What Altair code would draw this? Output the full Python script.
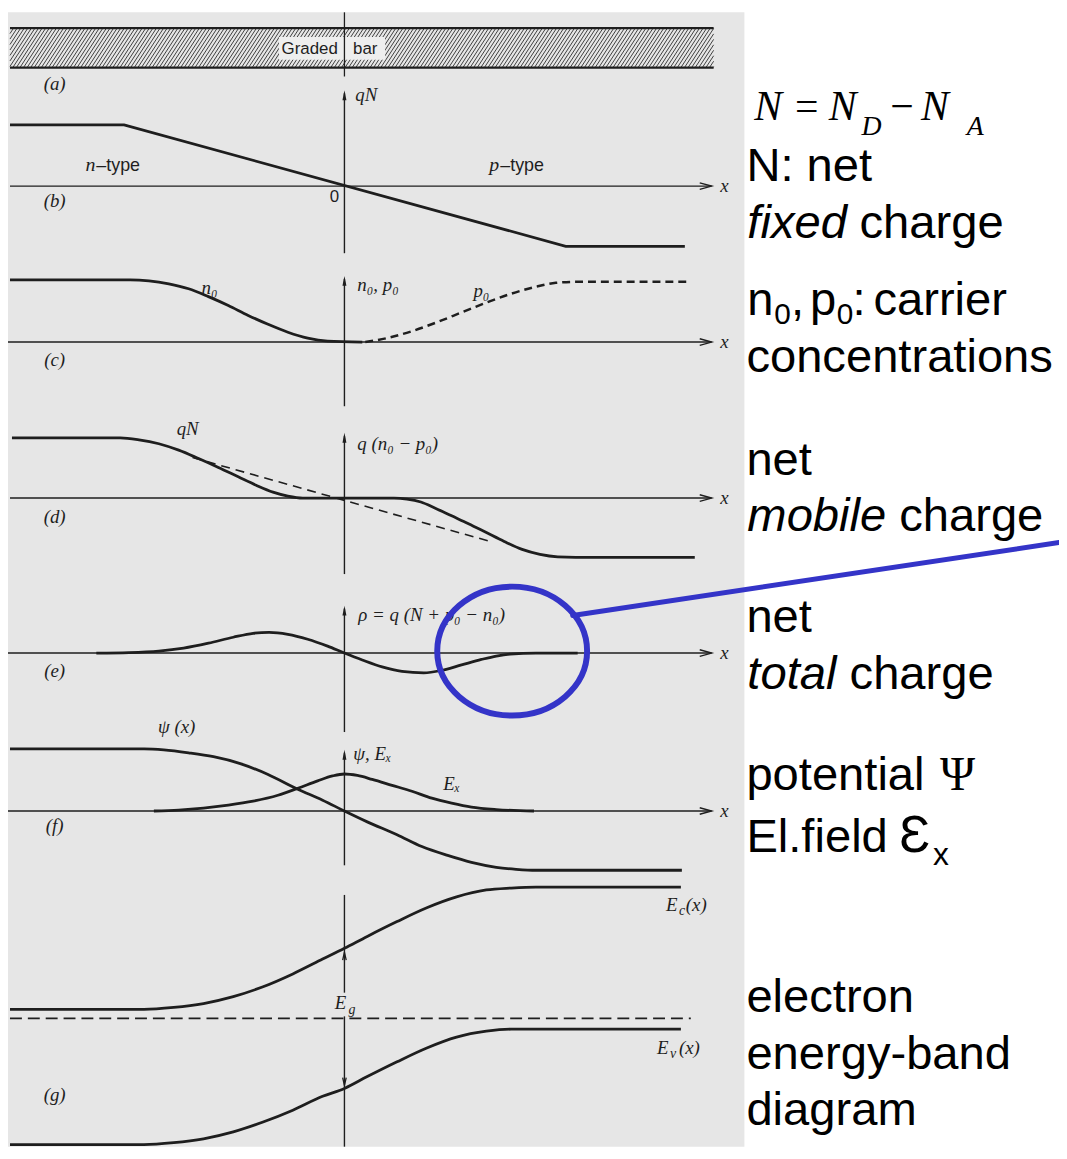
import altair as alt
import pandas as pd

W, H = 1067, 1159          # figure coordinate frame (reference pixels)
JX = 347                   # x position of the junction / vertical axes

# ---------------- curve data (x position, value above the panel baseline) -------------
b_x = [10, 125, 570, 690]
b_qN = [62, 62, -61, -61]

c_n_x = [10, 131, 150, 170, 190, 210, 230, 250, 270, 290, 310, 330, 365]
c_n0 = [63, 63, 62, 59, 54, 46, 37, 27, 18, 10, 4, 1, 0]
c_p_x = [368, 390, 415, 440, 465, 490, 515, 540, 560, 580, 696]
c_p0 = [0, 4, 11, 20, 30, 40, 49, 56, 60, 61, 61]

d_x = [12, 121, 140, 160, 180, 200, 220, 240, 258, 275, 290, 305, 397, 410, 424, 438,
       455, 472, 490, 508, 526, 544, 562, 580, 700]
d_mob = [61, 61, 59, 55, 48.5, 40, 31, 21.5, 13, 6, 2, 0, 0, -1, -4, -10,
         -18, -26, -35, -44, -52, -57, -59.5, -60, -60]
d_fx = [194, 494]
d_fix = [41, -44]

e_x = [97, 130, 160, 185, 210, 235, 255, 271, 290, 310, 330, 347, 365, 385, 405, 427,
       445, 465, 485, 500, 514, 540, 582]
e_rho = [0, 0.5, 2, 5, 10, 16, 20, 21, 19, 14, 7, 0, -7, -14, -18.5, -20,
         -17.5, -12, -6.5, -3, -1, 0, 0]

f_psi_x = [10, 145, 165, 190, 215, 242, 270, 300, 325, 347, 370, 400, 425, 451, 475,
           500, 520, 540, 687]
f_psi = [63, 63, 62, 59, 55, 48, 37, 22, 11, 0, -11, -24, -36, -45, -52, -57, -59, -60, -60]
f_ex_x = [155, 180, 205, 230, 255, 280, 300, 320, 335, 347, 360, 375, 395, 415, 435,
          455, 475, 500, 538]
f_ex = [0, 1, 3, 6, 10, 16, 23, 30.5, 35.5, 37.5, 36, 32, 26, 20, 13, 8, 4, 1.5, 0]

g_x = [10, 145, 175, 205, 235, 265, 295, 325, 347, 370, 400, 430, 460, 490, 515, 540, 686]
g_ec = [9, 9, 11, 15, 22, 32, 45, 60, 71, 83, 98, 112, 123, 130, 132, 133, 133]
g_ev = [-128, -128, -126, -122, -115, -105, -93, -79, -71, -59, -44, -30, -19, -13,
        -11, -11, -11]
g_fermi_x = [10, 696]
g_fermi = [0, 0]

# ---------------- layout ----------------
BASE = {"b": 182, "c": 340, "d": 498, "e": 655, "f": 815, "g": 1025}
AX_TOP = {"b": 85, "c": 273, "d": 432, "e": 607, "f": 753}
AX_BOT = {"b": 250, "c": 405, "d": 575, "e": 735, "f": 870}
AX_X0 = {"b": 10, "c": 8, "d": 10, "e": 8, "f": 8}
AX_X1 = 717

INK = "#1e1e1e"
BG = "#e6e6e6"
BLUE = "#3434c8"
LW = 2.8

xs = alt.Scale(domain=[8, W], nice=False, zero=False)
ys = alt.Scale(domain=[6, 1155], nice=False, zero=False, reverse=True)
X = alt.X("x:Q", scale=xs, axis=None)
Y = alt.Y("y:Q", scale=ys, axis=None)


def curve(xv, vals, base, cid):
    return pd.DataFrame({"x": xv, "y": [base - v for v in vals], "id": cid,
                         "o": list(range(len(xv)))})


def lines(dfs, interp, width, dash=None):
    df = pd.concat(dfs, ignore_index=True)
    kw = dict(interpolate=interp, strokeWidth=width, color=INK, strokeCap="butt")
    if dash:
        kw["strokeDash"] = dash
    return alt.Chart(df).mark_line(**kw).encode(x=X, y=Y, detail="id:N", order="o:Q")


def segs(rows, width, color=INK, dash=None, cap="butt"):
    df = pd.DataFrame(rows, columns=["x", "y", "x2", "y2"])
    kw = dict(strokeWidth=width, color=color, strokeCap=cap)
    if dash:
        kw["strokeDash"] = dash
    return alt.Chart(df).mark_rule(**kw).encode(
        x=X, y=Y, x2=alt.X2("x2:Q"), y2=alt.Y2("y2:Q"))


def rects(rows, color):
    df = pd.DataFrame(rows, columns=["x", "y", "x2", "y2"])
    return alt.Chart(df).mark_rect(color=color, stroke=None).encode(
        x=X, y=Y, x2=alt.X2("x2:Q"), y2=alt.Y2("y2:Q"))


def txt(rows, font, size, style="normal", align="left", baseline="alphabetic", color="#111111"):
    df = pd.DataFrame(rows, columns=["t", "x", "y"])
    return alt.Chart(df).mark_text(font=font, fontSize=size, fontStyle=style, align=align,
                                   baseline=baseline, color=color).encode(x=X, y=Y, text="t:N")


def marks(rows, shape, size, filled=True, width=1.3, color=INK):
    df = pd.DataFrame(rows, columns=["x", "y"])
    kw = dict(shape=shape, size=size, filled=filled, strokeWidth=width, color=color, opacity=1)
    if filled:
        kw["stroke"] = None
    return alt.Chart(df).mark_point(**kw).encode(x=X, y=Y)


layers = []

# background of the scanned page
layers.append(rects([[8, 6, 750, 1155]], BG))

# (a) graded bar with hatching
BAR_L, BAR_R, BAR_T, BAR_B = 10, 719, 22, 62
HSTEP, HDX = 3.6, 26
hatch = []
s = BAR_L - HDX
while s < BAR_R:
    x0, y0, x1, y1 = s, BAR_B, s + HDX, BAR_T
    if x0 < BAR_L:
        t = (BAR_L - s) / HDX
        x0, y0 = BAR_L, BAR_B - (BAR_B - BAR_T) * t
    if x1 > BAR_R:
        t = (BAR_R - s) / HDX
        x1, y1 = BAR_R, BAR_B - (BAR_B - BAR_T) * t
    hatch.append([x0, y0, x1, y1])
    s += HSTEP
layers.append(segs(hatch, 1.0, color="#3e3e3e"))
layers.append(rects([[281, 31, 388, 54]], "#eeeeee"))
layers.append(segs([[BAR_L, BAR_T, BAR_R, BAR_T], [BAR_L, BAR_B, BAR_R, BAR_B]], 2.2))
layers.append(segs([[JX, 6, JX, 71]], 1.3))

# axes of panels (b)-(f)
ax_rows = []
for k in ["b", "c", "d", "e", "f"]:
    ax_rows.append([AX_X0[k], BASE[k], AX_X1, BASE[k]])
    ax_rows.append([JX, AX_TOP[k] + 3, JX, AX_BOT[k]])
ax_rows.append([JX, 900, JX, 1155])
layers.append(segs(ax_rows, 1.4))

# Eg label gap
layers.append(rects([[336, 999, 362, 1023]], BG))

# curves
layers.append(lines([curve(b_x, b_qN, BASE["b"], "qN")], "linear", LW))
layers.append(lines([
    curve(c_n_x, c_n0, BASE["c"], "n0"),
    curve(d_x, d_mob, BASE["d"], "mob"),
    curve(e_x, e_rho, BASE["e"], "rho"),
    curve(f_psi_x, f_psi, BASE["f"], "psi"),
    curve(f_ex_x, f_ex, BASE["f"], "ex"),
    curve(g_x, g_ec, BASE["g"], "ec"),
    curve(g_x, g_ev, BASE["g"], "ev"),
], "monotone", LW))
layers.append(lines([curve(c_p_x, c_p0, BASE["c"], "p0")], "monotone", 2.5, dash=[8, 5]))
layers.append(lines([curve(d_fx, d_fix, BASE["d"], "qNd")], "linear", 1.6, dash=[9, 6]))
layers.append(lines([curve(g_fermi_x, g_fermi, BASE["g"], "ef")], "linear", 1.6, dash=[12, 6]))

# arrow heads
layers.append(marks([[711, BASE[k]] for k in ["b", "c", "d", "e", "f"]],
                    "M -1 -0.55 L 1 0 L -1 0.55", 144, filled=False, width=1.4))
layers.append(marks([[JX, AX_TOP[k] + 5] for k in ["b", "c", "d", "e", "f"]],
                    "M -0.4 1 L 0 -1 L 0.4 1 Z", 100))
layers.append(marks([[JX, 962]], "M -0.45 1 L 0 -1 L 0.45 1", 64, filled=False, width=1.3))
layers.append(marks([[JX, 1089]], "M -0.45 -1 L 0 1 L 0.45 -1", 64, filled=False, width=1.3))

SERIF = "Liberation Serif"
SANS = "Liberation Sans"

# panel letters
panel_lbl = [["(a)", 55, 79], ["(b)", 55, 197], ["(c)", 55, 358], ["(d)", 55, 517],
             ["(e)", 55, 673], ["(f)", 55, 830], ["(g)", 55, 1103]]
layers.append(txt(panel_lbl, SERIF, 19, "italic", "center", "middle", INK))

# math labels (italic serif)
math_left = [["qN", 358, 90], ["n₀, p₀", 360, 282], ["q (n₀ − p₀)", 360, 443],
             ["ρ = q (N + p₀ − n₀)", 361, 617], ["ψ, Eₓ", 356, 757]]
layers.append(txt(math_left, SERIF, 19, "italic", "left", "middle", INK))
type_letters = [["n", 96, 161], ["p", 503, 161]]
layers.append(txt(type_letters, SERIF, 20, "italic", "right", "middle", INK))
math_c = [["n₀", 211, 285], ["p₀", 485, 288], ["qN", 189, 428], ["ψ (x)", 178, 730],
          ["Eₓ", 455, 788], ["E", 343, 1010]] + \
         [["x", 730, BASE[k]] for k in ["b", "c", "d", "e", "f"]]
layers.append(txt(math_c, SERIF, 19, "italic", "center", "middle", INK))
band_main = [["E", 671, 910], ["(x)", 691, 910], ["E", 662, 1055], ["(x)", 684, 1055]]
layers.append(txt(band_main, SERIF, 19, "italic", "left", "middle", INK))
band_sub = [["c", 684, 916], ["v", 675, 1061], ["g", 351, 1017]]
layers.append(txt(band_sub, SERIF, 14, "italic", "left", "middle", INK))

# sans labels in the figure
layers.append(txt([["–type", 97, 162], ["–type", 504, 162]], SANS, 18, "normal", "left",
                  "middle", INK))
layers.append(txt([["0", 337, 193]], SANS, 17, "normal", "center", "middle", INK))
layers.append(txt([["Graded", 312, 43], ["bar", 368, 43]], SANS, 17, "normal", "center",
                  "middle", INK))

# ---------------- right-hand annotations ----------------
FS = 47.5
eq_main_i = [["N", 760, 115], ["N", 835, 115], ["N", 928, 115]]
eq_main_r = [["=", 801, 115], ["−", 897, 115]]
eq_sub = [["D", 868, 130], ["A", 974, 130]]
layers.append(txt(eq_main_i, SERIF, 42, "italic", "left", "alphabetic", "#000000"))
layers.append(txt(eq_main_r, SERIF, 42, "normal", "left", "alphabetic", "#000000"))
layers.append(txt(eq_sub, SERIF, 28, "italic", "left", "alphabetic", "#000000"))

note_reg = [["N: net", 752, 177], ["charge", 866, 235],
            ["n", 753, 313], [",", 797, 313], ["p", 816, 313], [":", 859, 313], ["carrier", 880, 313],
            ["concentrations", 752, 370],
            ["net", 752, 475], ["charge", 906, 531],
            ["net", 752, 634], ["charge", 856, 691],
            ["potential", 752, 794], ["El.field", 752, 857],
            ["electron", 752, 1019], ["energy-band", 752, 1076], ["diagram", 752, 1133]]
note_ital = [["fixed", 753, 235], ["mobile", 753, 531], ["total", 753, 691]]
note_sub = [["0", 780, 322], ["0", 843, 322]]
layers.append(txt(note_reg, SANS, FS, "normal", "left", "alphabetic", "#000000"))
layers.append(txt(note_ital, SANS, FS, "italic", "left", "alphabetic", "#000000"))
layers.append(txt(note_sub, SANS, 30, "normal", "left", "alphabetic", "#000000"))
layers.append(txt([["Ψ", 947, 794]], SERIF, 48, "normal", "left", "alphabetic", "#000000"))
layers.append(txt([["Ɛ", 906, 857]], SANS, 52, "normal", "left", "alphabetic", "#000000"))
layers.append(txt([["x", 940, 870]], SANS, 32, "normal", "left", "alphabetic", "#000000"))

# ---------------- blue highlight ----------------
layers.append(segs([[577, 617, W, 543]], 5, color=BLUE, cap="round"))
ELLIPSE = ("M 1 0 C 1 0.475 0.5523 0.86 0 0.86 C -0.5523 0.86 -1 0.475 -1 0 "
           "C -1 -0.475 -0.5523 -0.86 0 -0.86 C 0.5523 -0.86 1 -0.475 1 0 Z")
layers.append(marks([[516, 653]], ELLIPSE, 151 * 151, filled=False, width=6, color=BLUE))

chart = alt.layer(*layers).properties(
    width=1059, height=1143, padding=0,
    autosize=alt.AutoSizeParams(type="none"),
    background="#ffffff",
).configure_view(stroke=None)

chart.save("out.html", embed_options={"renderer": "svg", "actions": False})
